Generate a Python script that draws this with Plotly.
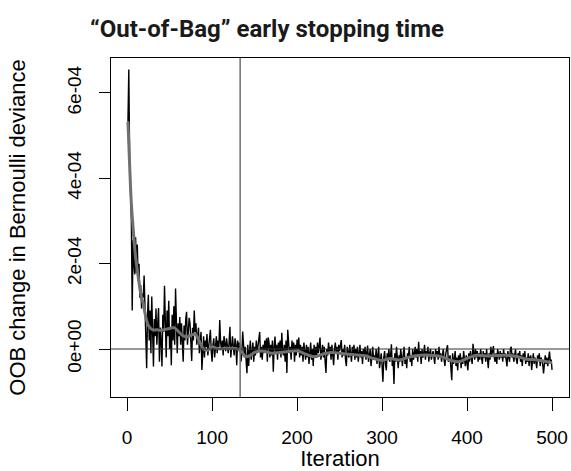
import plotly.graph_objects as go

# OOB improvement per iteration (units of 1e-6)
oob_1e6 = [
    533, 655, 440, 385, 300, 90, 255, 200, 175, 262,
    178, 245, 160, 200, 120, 150, 95, 130, 120, 172,
    110, 60, -45, 80, 127, 20, 90, -10, 123, 40,
    -41, 70, 30, 95, 10, 60, 96, -30, 50, 20,
    -41, 80, 40, 148, 10, -20, 90, 30, 113, 0,
    50, -38, 80, 20, 100, 10, 142, 40, -10, 60,
    30, 75, 10, 60, -5, -30, 55, 20, 70, 87,
    10, 40, 73, 60, 0, -28, 50, 20, 90, 40,
    60, 10, 30, 50, -10, 25, 40, -49, 10, 30,
    -20, 20, 5, 35, -15, 10, 30, 45, -5, -30,
    10, 25, -20, 15, 30, -10, 20, 5, 68, 15,
    0, 20, -15, 30, 10, -5, 25, 10, -10, 15,
    52, -20, 10, 30, 5, -15, 25, 10, -38, 20,
    0, 15, 5, -30, -10, 41, 10, -20, 5, -35,
    -57, 10, -40, -5, 20, -25, -10, 15, -30, 5,
    -15, 20, -10, 10, 30, 40, -20, 5, -25, 10,
    -10, 20, -5, 25, -30, 27, 15, -20, 10, -15,
    20, -53, 5, 29, -10, 10, -25, 15, -5, 20,
    -20, 38, -5, -15, 10, -30, 20, -56, 45, 10,
    -10, 5, -25, 20, -5, 15, -30, 10, -15, 22,
    0, 27, -20, 10, -15, 5, -30, 15, -10, -25,
    10, -20, 5, -35, -10, 15, -25, 0, -40, 10,
    -15, 5, -20, 15, -10, 20, 27, -25, -5, 10,
    -20, 5, -30, -56, 0, -15, 15, -10, 5, -25,
    10, -20, -38, 0, 15, -10, 5, -25, 10, -5,
    15, 21, -20, 0, -15, 10, -25, -40, 5, -10,
    -20, 10, -5, -30, 5, -15, 10, -25, 0, -20,
    5, -30, -10, 10, -20, -5, -35, 0, -15, 5,
    -25, -10, 8, -30, -15, 0, -40, -10, 5, -25,
    -15, -26, 0, -35, -20, 5, -45, -25, -10, -40,
    -77, -20, -5, -35, -50, -10, -25, 0, -30, -15,
    11, -40, -25, -82, -10, -30, 5, -20, -45, -15,
    -30, 0, -25, -40, -10, 5, -35, -20, -45, -10,
    -20, 5, -30, -15, -40, 0, -25, -10, 5, -20,
    0, -30, 17, -15, -5, -35, 0, -20, -10, 10,
    -25, -5, -15, 5, -30, -10, 0, -25, -15, -5,
    -20, -35, 0, -15, -5, -25, 5, -20, -10, -30,
    -15, 0, -25, -40, -10, 5, 9, -30, -20, -15,
    -45, -73, -10, -35, -25, -5, -40, -20, -50, -15,
    -30, -10, -45, -20, -35, -5, -25, -40, -15, -30,
    -50, -10, -30, -5, -20, -35, 12, -15, -25, 0,
    -20, -5, -30, -10, -25, 0, -15, -35, -5, -20,
    -10, -30, 0, -20, -45, -10, -25, 5, -15, -5,
    7, -20, -30, -10, -35, 0, -15, -25, -5, -20,
    -10, -30, 0, -20, -10, -25, -41, -5, -15, -30,
    0, 5, -20, -10, -30, -15, 0, -25, -35, -10,
    -20, -5, -30, -15, -40, -10, -25, -5, -35, -20,
    -30, -10, -40, -20, -15, -49, -25, -10, -35, -20,
    -30, -45, -15, -25, -10, -40, -20, -30, -35, -57,
    -25, -15, -35, -20, -40, -10, -6, -30, -25, -49,
]
iterations = list(range(1, len(oob_1e6) + 1))

# smoothed (gray) curve, read at selected iterations (units of 1e-6)
smooth_iter = [1, 3, 5, 8, 10, 13, 16, 19, 22, 25, 30, 35, 40, 45, 50, 55, 60, 65,
               70, 75, 80, 85, 90, 95, 100, 105, 110, 115, 120, 125, 130, 135,
               140, 145, 150, 160, 170, 180, 190, 200, 210, 220, 230, 240, 250,
               260, 270, 280, 290, 300, 310, 320, 330, 340, 350, 360, 370, 380,
               390, 400, 410, 420, 430, 440, 450, 460, 470, 480, 490, 500]
smooth_1e6 = [533, 430, 340, 260, 215, 170, 130, 105, 75, 55, 45, 45, 44, 46, 48, 50,
              42, 32, 28, 32, 35, 18, 0, -3, 5, 2, 0, 2, 1, 2, 0, -8,
              -18, -15, -8, -5, -10, -8, -6, -4, -12, -18, -12, -8, -10,
              -12, -14, -16, -22, -27, -22, -26, -20, -16, -14, -15, -18, -26,
              -30, -22, -15, -16, -16, -15, -15, -18, -24, -25, -28, -32]

best_iter = 133
y_ticks = [0, 2e-4, 4e-4, 6e-4]
y_tick_text = ["0e+00", "2e-04", "4e-04", "6e-04"]
x_ticks = [0, 100, 200, 300, 400, 500]

oob = [v * 1e-6 for v in oob_1e6]
smooth = [v * 1e-6 for v in smooth_1e6]

fig = go.Figure()
fig.add_trace(go.Scatter(x=iterations, y=oob, mode="lines",
                         line=dict(color="black", width=1.4), showlegend=False))
fig.add_trace(go.Scatter(x=smooth_iter, y=smooth, mode="lines",
                         line=dict(color="#707070", width=3, shape="spline"),
                         showlegend=False))
fig.add_hline(y=0, line=dict(color="#333333", width=1))
fig.add_vline(x=best_iter, line=dict(color="#6e6e6e", width=1.5))

font = "Liberation Sans, Arial, sans-serif"
title_font = dict(family=font, size=22, color="black")
fig.update_layout(
    width=571, height=471,
    margin=dict(l=111, r=2, t=58, b=74, autoexpand=False),
    paper_bgcolor="white", plot_bgcolor="white",
    title=dict(text="<b>\u201cOut-of-Bag\u201d early stopping time</b>",
               x=267 / 571, xanchor="center", xref="container",
               y=1 - 29 / 471, yanchor="middle", yref="container",
               font=dict(family="Roboto, sans-serif", size=24, color="#1a1a1a")),
    font=dict(family=font, size=19, color="black"),
)
fig.update_xaxes(range=[-18.96, 519.96], tickvals=x_ticks, ticks="outside",
                 ticklen=13, tickcolor="black", tickwidth=1, automargin=False,
                 showline=True, linecolor="black", linewidth=1, mirror=True,
                 showgrid=False, zeroline=False, ticklabelstandoff=10,
                 tickfont=dict(family=font, size=19, color="black"))
fig.update_xaxes(title_text="Iteration", title_standoff=8, title_font=title_font)
fig.update_yaxes(range=[-1.125e-4, 6.82e-4], tickvals=y_ticks, ticktext=y_tick_text,
                 tickangle=-90, ticks="outside", ticklen=11, tickcolor="black",
                 tickwidth=1, showline=True, linecolor="black", linewidth=1,
                 mirror=True, showgrid=False, zeroline=False, automargin=False,
                 ticklabelstandoff=10,
                 tickfont=dict(family=font, size=19, color="black"))
fig.update_yaxes(title_text="OOB change in Bernoulli deviance", title_standoff=32,
                 title_font=title_font)

fig.write_html("out.html", config={"displayModeBar": False},
               post_script="document.body.style.margin='0px';")
